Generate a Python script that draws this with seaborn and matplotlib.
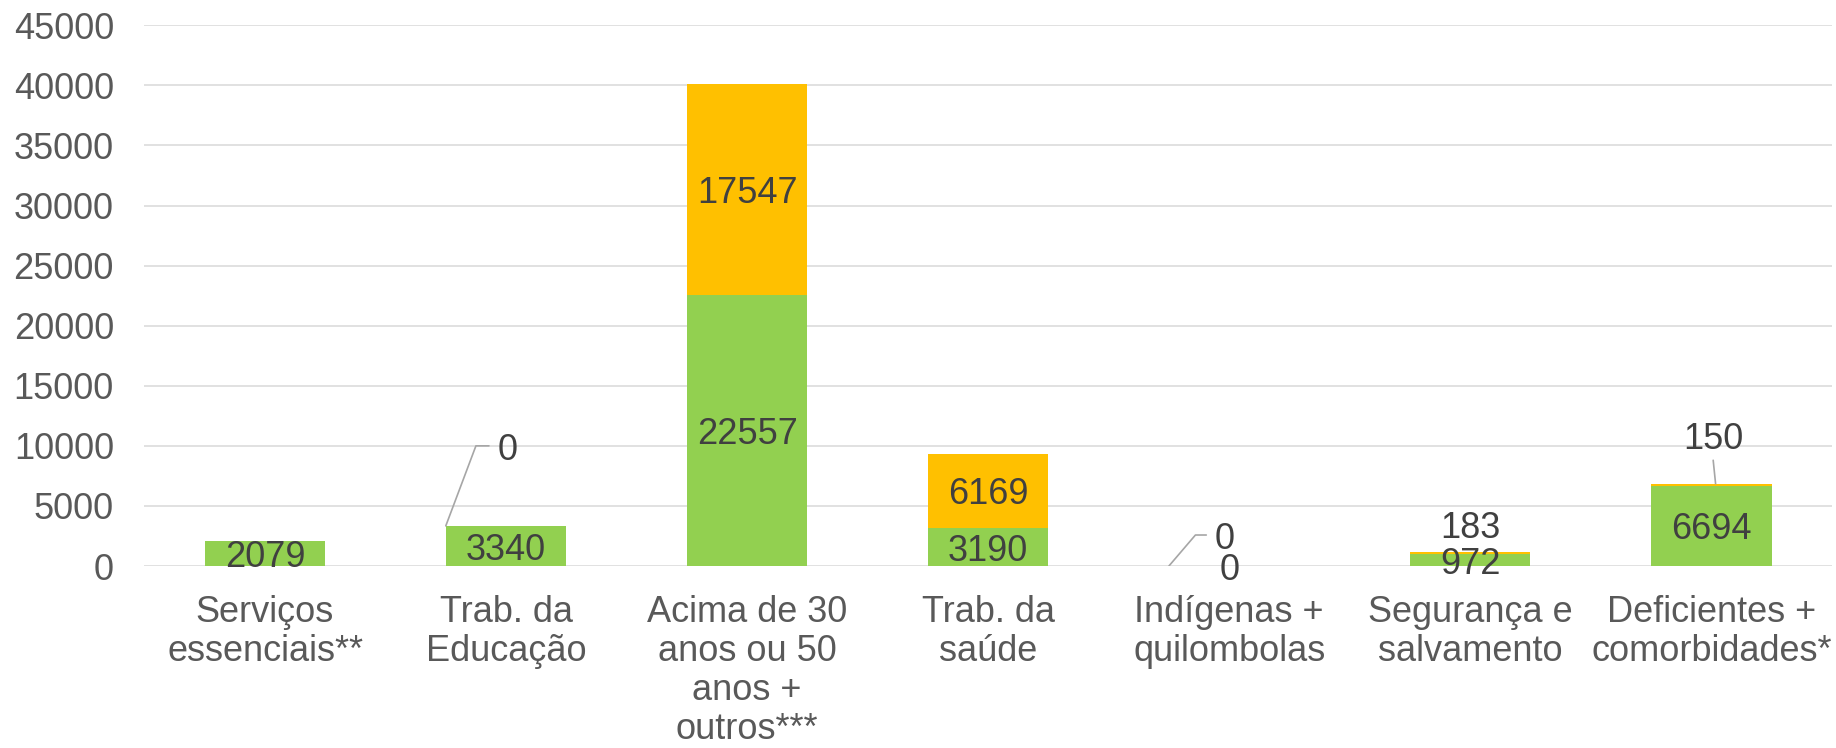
import numpy as np
import pandas as pd
import matplotlib
matplotlib.use("Agg")
import matplotlib.pyplot as plt
import seaborn as sns

# categorias e valores
categorias = ["Serviços\nessenciais**", "Trab. da\nEducação",
              "Acima de 30\nanos ou 50\nanos +\noutros***", "Trab. da\nsaúde",
              "Indígenas +\nquilombolas", "Segurança e\nsalvamento",
              "Deficientes +\ncomorbidades*"]
serie_verde = [2079, 3340, 22557, 3190, 0, 972, 6694]
serie_laranja = [np.nan, 0, 17547, 6169, 0, 183, 150]
yticks = list(range(0, 45001, 5000))

VERDE = "#92D050"
LARANJA = "#FFC000"
COR_TXT = "#404040"
COR_TICK = "#595959"
COR_LINHA = "#A6A6A6"

df = pd.DataFrame({"cat": categorias, "verde": serie_verde, "laranja": serie_laranja})
df["total"] = df["verde"] + df["laranja"].fillna(0)

sns.set_style("white")
plt.rcParams["font.family"] = ["Liberation Sans", "DejaVu Sans"]

fig = plt.figure(figsize=(18.36, 7.48), dpi=100)
ax = fig.add_axes([0.0787, 0.2433, 0.919, 0.7229])

# barras empilhadas: total em laranja por baixo, verde por cima
sns.barplot(data=df, x="cat", y="total", color=LARANJA, saturation=1, width=0.5,
            linewidth=0, ax=ax)
sns.barplot(data=df, x="cat", y="verde", color=VERDE, saturation=1, width=0.5,
            linewidth=0, ax=ax)

ax.set_xlim(-0.5, 6.5)
ax.set_ylim(0, 45000)
ax.set_yticks(yticks)
ax.set_xlabel("")
ax.set_ylabel("")
ax.grid(axis="y", color="#D9D9D9", linewidth=1.1)
ax.set_axisbelow(True)
sns.despine(ax=ax, left=True, bottom=True)
fs = 26
ax.tick_params(axis="y", length=0, pad=22, labelsize=fs, labelcolor=COR_TICK)
ax.tick_params(axis="x", length=0, pad=21, labelsize=fs, labelcolor=COR_TICK)
plt.setp(ax.get_xticklabels(), linespacing=1.14)


def rotulo(x, y, s, ha="center"):
    ax.annotate(s, (x, y), xytext=(0, -3), textcoords="offset points",
                ha=ha, va="center", fontsize=fs, color=COR_TXT)


# rotulos verdes (centro do segmento)
for i, v in enumerate(serie_verde):
    rotulo(i, v / 2, f"{v}")

# rotulos laranja
fora = {1, 4, 5, 6}
for i, (g, o) in enumerate(zip(serie_verde, serie_laranja)):
    if np.isnan(o):
        continue
    o = int(o)
    topo = g + o
    if i not in fora:
        rotulo(i, g + o / 2, f"{o}")
    elif i == 1:
        ax.plot([i - 0.25, i - 0.125, i - 0.071], [topo, 10000, 10000], color=COR_LINHA, lw=1.2)
        rotulo(i - 0.036, 10000, f"{o}", ha="left")
    elif i == 4:
        ax.plot([i - 0.25, i - 0.14, i - 0.095], [topo, 2580, 2580], color=COR_LINHA, lw=1.2)
        rotulo(i - 0.06, 2580, f"{o}", ha="left")
    elif i == 5:
        rotulo(i, 3450, f"{o}")
    elif i == 6:
        ax.plot([i + 0.008, i + 0.018], [8800, topo], color=COR_LINHA, lw=1.2)
        rotulo(i + 0.01, 10840, f"{o}")

fig.savefig("out.png", dpi=100)
